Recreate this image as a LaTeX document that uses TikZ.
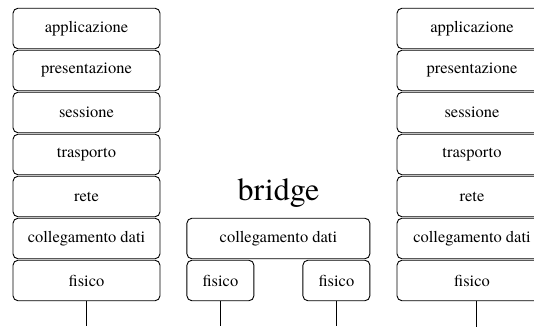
\documentclass[tikz,border=0pt]{standalone}
\usepackage{fontspec}
\setmainfont{texgyretermes}[Extension=.otf,UprightFont=*-regular]
\usetikzlibrary{positioning}

\begin{document}
\begin{tikzpicture}[
  x=1pt,y=1pt,
  font=\rmfamily\fontsize{16.5}{18}\selectfont,
  layer/.style={draw,rounded corners=5pt,line width=0.9pt,minimum width=147pt,
                minimum height=40.5pt,inner sep=0pt,align=center},
  wire/.style={line width=0.9pt},
]
  \clip (0,0) rectangle (534,-326);
  \coordinate (bot) at (0,-326);

  % stack on the left
  \node[layer] (app1) at (86.5,-28.5) {applicazione};
  \node[layer, below=0.6pt of app1] (pres1) {presentazione};
  \node[layer, below=0.6pt of pres1] (ses1) {sessione};
  \node[layer, below=0.6pt of ses1] (tra1) {trasporto};
  \node[layer, below=0.6pt of tra1] (net1) {rete};
  \node[layer, below=0.6pt of net1] (dl1) {collegamento dati};
  \node[layer, below=0.6pt of dl1] (phy1) {fisico};

  % stack on the right
  \node[layer, minimum width=150pt] (app2) at (472,-28.5) {applicazione};
  \node[layer, minimum width=150pt, below=0.6pt of app2] (pres2) {presentazione};
  \node[layer, minimum width=150pt, below=0.6pt of pres2] (ses2) {sessione};
  \node[layer, minimum width=150pt, below=0.6pt of ses2] (tra2) {trasporto};
  \node[layer, minimum width=150pt, below=0.6pt of tra2] (net2) {rete};
  \node[layer, minimum width=150pt, below=0.6pt of net2] (dl2) {collegamento dati};
  \node[layer, minimum width=150pt, below=0.6pt of dl2] (phy2) {fisico};

  % the bridge
  \node[layer, minimum width=183pt, right=26pt of dl1] (dlb) {collegamento dati};
  \node[layer, minimum width=67pt, below right=0.6pt and 0pt of dlb.south west] (phyb1) {fisico};
  \node[layer, minimum width=67pt, below left=0.6pt and 0pt of dlb.south east] (phyb2) {fisico};
  \node[above=17pt of dlb.north, anchor=base, font=\rmfamily\fontsize{32}{36}\selectfont] (br) {bridge};

  % cables
  \draw[wire] (phy1) -- (phy1 |- bot);
  \draw[wire] (phyb1) -- (phyb1 |- bot);
  \draw[wire] (phyb2) -- (phyb2 |- bot);
  \draw[wire] (phy2.south) ++(4,0) -- ++(0,-30);
\end{tikzpicture}
\end{document}
